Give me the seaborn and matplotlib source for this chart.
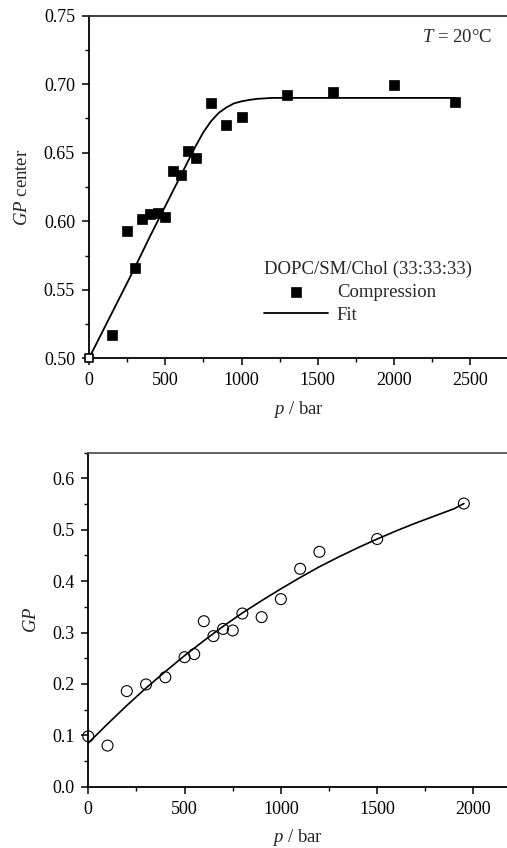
import numpy as np
import pandas as pd
import matplotlib
matplotlib.use("Agg")
import matplotlib.pyplot as plt
import seaborn as sns
from matplotlib.ticker import MultipleLocator

sns.set_style("ticks")
plt.rcParams['font.family'] = ['Liberation Serif', 'DejaVu Serif']
plt.rcParams['mathtext.fontset'] = 'custom'
plt.rcParams['mathtext.rm'] = 'Liberation Serif'
plt.rcParams['mathtext.it'] = 'Liberation Serif:italic'

# ---- top panel data ----
p_comp = [0, 150, 250, 300, 350, 400, 450, 500, 550, 600, 650, 700, 800, 900, 1000, 1300, 1600, 2000, 2400]
gp_comp = [0.500, 0.517, 0.593, 0.566, 0.602, 0.605, 0.606, 0.603, 0.637, 0.634, 0.651, 0.646,
           0.686, 0.670, 0.676, 0.692, 0.694, 0.6995, 0.687]
p_fit_top = [0, 100, 200, 300, 400, 500, 600, 650, 700, 750, 800, 850, 900, 950, 1000, 1050, 1100,
             1200, 1300, 1500, 2000, 2400]
gp_fit_top = [0.500, 0.522, 0.544, 0.566, 0.589, 0.611, 0.633, 0.644, 0.655, 0.665, 0.673, 0.679,
              0.683, 0.686, 0.6875, 0.6885, 0.6893, 0.690, 0.690, 0.690, 0.690, 0.690]

# ---- bottom panel data ----
p_bot = [0, 100, 200, 300, 400, 500, 550, 600, 650, 700, 750, 800, 900, 1000, 1100, 1200, 1500, 1950]
gp_bot = [0.098, 0.080, 0.186, 0.199, 0.213, 0.252, 0.258, 0.322, 0.293, 0.307, 0.304, 0.337,
          0.330, 0.365, 0.424, 0.457, 0.482, 0.551]
p_fit_bot = [0, 100, 200, 300, 400, 500, 600, 700, 800, 900, 1000, 1100, 1200, 1300, 1400, 1500,
             1600, 1700, 1800, 1900, 1950]
gp_fit_bot = [0.085, 0.122, 0.158, 0.192, 0.224, 0.255, 0.284, 0.312, 0.338, 0.362, 0.385, 0.407,
              0.428, 0.447, 0.465, 0.482, 0.498, 0.513, 0.527, 0.541, 0.551]

legend_title = "DOPC/SM/Chol (33:33:33)"
series_labels = ["Compression", "Fit"]

FS_TICK = 13
FS_TEXT = 13.5

fig = plt.figure(figsize=(5.07, 8.48), dpi=100)
ax1 = fig.add_axes([0.1755, 0.5775, 1.0 - 0.1755, 0.404])
ax2 = fig.add_axes([0.1741, 0.0723, 1.0 - 0.1741, 0.3939])

df_top = pd.DataFrame({"p": p_comp, "gp": gp_comp})
df_fit_top = pd.DataFrame({"p": p_fit_top, "gp": gp_fit_top})
sns.lineplot(data=df_fit_top, x="p", y="gp", ax=ax1, color="black", lw=1.3, label=series_labels[1], zorder=2)
sns.scatterplot(data=df_top.iloc[1:], x="p", y="gp", ax=ax1, marker="s", s=50, color="black",
                edgecolor="black", linewidth=0.5, label=series_labels[0], zorder=3)
sns.scatterplot(data=df_top.iloc[:1], x="p", y="gp", ax=ax1, marker="s", s=40, facecolor="white",
                edgecolor="black", linewidth=1.2, zorder=4, clip_on=False, legend=False)

df_bot = pd.DataFrame({"p": p_bot, "gp": gp_bot})
df_fit_bot = pd.DataFrame({"p": p_fit_bot, "gp": gp_fit_bot})
sns.lineplot(data=df_fit_bot, x="p", y="gp", ax=ax2, color="black", lw=1.2, zorder=2, legend=False)
sns.scatterplot(data=df_bot, x="p", y="gp", ax=ax2, marker="o", s=62, facecolor="none",
                edgecolor="black", linewidth=0.8, zorder=3, clip_on=False, legend=False)

# axes formatting
ax1.set_xlim(0, 2740)
ax1.set_ylim(0.50, 0.75)
ax1.xaxis.set_major_locator(MultipleLocator(500))
ax1.xaxis.set_minor_locator(MultipleLocator(250))
ax1.yaxis.set_major_locator(MultipleLocator(0.05))
ax1.yaxis.set_minor_locator(MultipleLocator(0.025))
ax1.yaxis.set_major_formatter(matplotlib.ticker.FormatStrFormatter('%.2f'))

ax2.set_xlim(0, 2174)
ax2.set_ylim(0.0, 0.65)
ax2.xaxis.set_major_locator(MultipleLocator(500))
ax2.xaxis.set_minor_locator(MultipleLocator(250))
ax2.yaxis.set_major_locator(MultipleLocator(0.1))
ax2.yaxis.set_minor_locator(MultipleLocator(0.05))
ax2.yaxis.set_major_formatter(matplotlib.ticker.FormatStrFormatter('%.1f'))

for ax, topc in ((ax1, "#333333"), (ax2, "#555555")):
    ax.spines['right'].set_visible(False)
    for s in ('left', 'bottom'):
        ax.spines[s].set_linewidth(1.3)
        ax.spines[s].set_color("black")
    ax.spines['top'].set_linewidth(1.3)
    ax.spines['top'].set_color(topc)
    ax.tick_params(which='major', direction='out', length=5, width=1.1, labelsize=FS_TICK, pad=5,
                   colors="black")
    ax.tick_params(which='minor', direction='out', length=3, width=1.0, colors="black")
    ax.tick_params(top=False, right=False, which='both')
    ax.set_facecolor("white")

ax1.set_xlabel("$p$ / bar", fontsize=FS_TEXT, labelpad=7)
ax1.set_ylabel("$GP$ center", fontsize=FS_TEXT, labelpad=9)
ax2.set_xlabel("$p$ / bar", fontsize=FS_TEXT, labelpad=7)
ax2.set_ylabel("$GP$", fontsize=FS_TEXT, labelpad=9)

ax1.text(0.964, 0.935, "$T$ = 20°C", transform=ax1.transAxes, ha="right", va="center", fontsize=FS_TEXT)

handles, labels = ax1.get_legend_handles_labels()
order = [labels.index(series_labels[0]), labels.index(series_labels[1])]
leg = ax1.legend([handles[i] for i in order], [labels[i] for i in order],
                 title=legend_title, loc="upper left", bbox_to_anchor=(0.41, 0.295),
                 frameon=False, fontsize=FS_TEXT, title_fontsize=FS_TEXT, alignment="left",
                 handlelength=3.4, handletextpad=0.48, labelspacing=0.3, borderaxespad=0,
                 borderpad=0.2)

fig.savefig("out.png", dpi=100, facecolor="white")
